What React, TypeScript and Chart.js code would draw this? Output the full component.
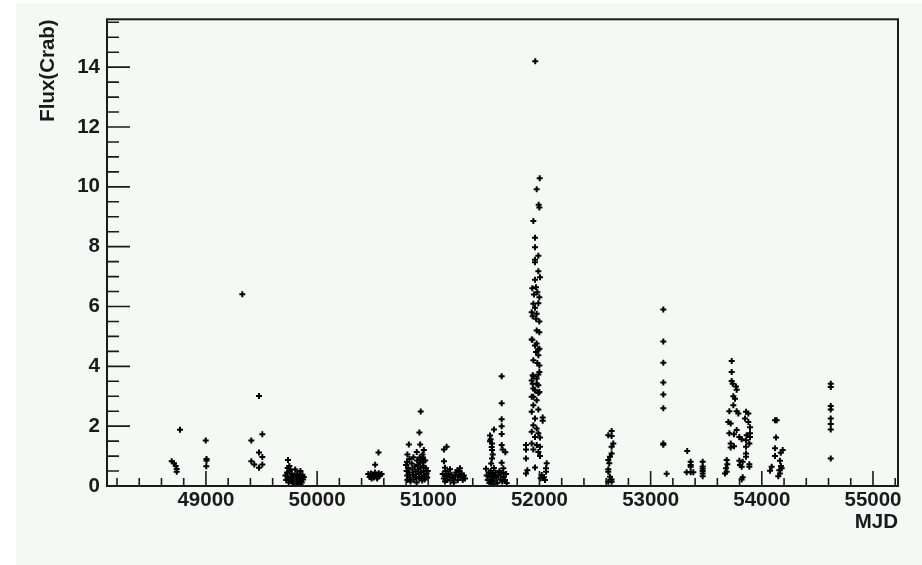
import React, { useEffect, useRef } from "react";
import { Chart, registerables } from "chart.js";

Chart.register(...registerables);

type P = [number, number];

// MJD / Flux(Crab) readings, grouped by activity episode
const ep48700: P[] = [[48692,0.83],[48713,0.76],[48728,0.67],[48737,0.57],[48737,0.48],[48767,1.88]];
const ep49000: P[] = [[48998,1.52],[49005,0.9],[49005,0.85],[49003,0.66]];
const ep49400: P[] = [[49327,6.41],[49477,3.01],[49507,1.73],[49408,1.52],[49477,1.12],[49507,0.97],[49408,0.83],[49435,0.72],[49477,0.61],[49507,0.72]];
const ep49800: P[] = [[49738,0.87],[49750,0.67],[49715,0.35],[49722,0.2],[49730,0.45],[49738,0.28],[49745,0.12],[49752,0.5],[49760,0.3],[49765,0.18],[49772,0.4],[49778,0.25],[49785,0.1],[49790,0.35],[49797,0.22],[49803,0.55],[49808,0.15],[49815,0.3],[49820,0.42],[49826,0.08],[49832,0.25],[49838,0.35],[49845,0.18],[49850,0.5],[49856,0.28],[49862,0.12],[49868,0.38],[49874,0.22],[49880,0.3],[49735,0.6],[49760,0.55],[49795,0.05],[49820,0.05],[49850,0.05]];
const ep50500: P[] = [[50552,1.12],[50522,0.71],[50460,0.4],[50472,0.3],[50485,0.42],[50498,0.35],[50510,0.28],[50520,0.45],[50533,0.38],[50545,0.32],[50555,0.43],[50568,0.36],[50580,0.4],[50490,0.25],[50540,0.25]];
const ep50900: P[] = [[50932,2.49],[50920,1.79],[50825,1.39],[50927,1.39],[50896,1.14],[50866,0.96],[50830,0.9],[50950,0.96],[50956,0.8],[50800,0.7],[50805,0.5],[50810,0.35],[50812,0.2],[50820,0.6],[50828,0.45],[50835,0.28],[50840,0.15],[50850,0.75],[50858,0.55],[50862,0.38],[50870,0.22],[50878,0.65],[50885,0.48],[50890,0.3],[50895,0.12],[50900,0.85],[50905,0.7],[50910,0.55],[50915,0.4],[50918,0.25],[50922,0.95],[50925,0.78],[50930,0.62],[50935,0.45],[50940,0.3],[50945,0.18],[50948,1.05],[50952,0.68],[50958,0.5],[50962,0.35],[50968,0.22],[50972,0.85],[50978,0.6],[50985,0.42],[50990,0.28],[50995,0.5],[50960,1.2],[50940,0.9],[50812,1.05],[50808,0.8]];
const ep51200: P[] = [[51165,1.31],[51141,1.22],[51141,0.83],[51150,0.61],[51195,0.56],[51285,0.59],[51261,0.53],[51130,0.4],[51140,0.25],[51150,0.15],[51160,0.35],[51170,0.2],[51180,0.42],[51190,0.3],[51200,0.18],[51210,0.38],[51225,0.25],[51240,0.32],[51250,0.45],[51265,0.2],[51275,0.38],[51290,0.28],[51300,0.42],[51310,0.2],[51320,0.35],[51330,0.25],[51155,0.5],[51280,0.5],[51230,0.12]];
const ep51600: P[] = [[51660,3.67],[51660,2.77],[51660,2.23],[51660,2.0],[51660,1.74],[51591,1.89],[51555,1.69],[51561,1.56],[51573,1.42],[51660,1.37],[51669,1.22],[51693,1.13],[51573,1.2],[51573,0.92],[51660,0.78],[51519,0.58],[51675,0.59],[51525,0.35],[51535,0.2],[51545,0.45],[51550,0.1],[51558,0.3],[51562,0.5],[51568,0.15],[51575,0.4],[51580,0.25],[51585,0.05],[51590,0.6],[51595,0.35],[51600,0.18],[51605,0.45],[51610,0.28],[51620,0.1],[51630,0.35],[51640,0.5],[51650,0.22],[51655,0.4],[51665,0.15],[51670,0.45],[51680,0.3],[51690,0.2],[51700,0.4],[51705,0.1],[51565,0.75],[51580,1.05],[51570,1.3],[51555,1.5]];
const ep51950: P[] = [[51962,14.2],[52002,10.29],[51975,9.92],[51993,9.4],[51999,9.31],[51945,8.86],[51960,8.3],[51960,7.98],[51990,7.7],[51960,7.56],[51960,7.48],[51990,7.18],[52005,6.98],[51960,6.89],[51936,6.61],[51969,6.64],[51981,6.48],[51951,6.4],[51999,6.31],[51945,6.09],[51990,6.11],[51960,5.96],[51930,5.81],[51975,5.76],[51939,5.67],[51969,5.59],[51999,5.5],[51975,5.2],[51999,5.14],[51936,4.89],[51975,4.76],[51999,4.59],[51969,4.48],[51990,4.37],[51945,4.2],[51981,4.11],[51999,4.03],[51945,3.67],[51975,3.59],[51999,3.81],[51939,3.42],[51990,3.37],[51960,3.2],[51999,3.14],[51945,2.98],[51930,4.9],[51960,4.7],[51990,4.56],[51939,3.7],[51990,3.73],[51930,3.53],[51975,3.42],[51945,3.26],[51990,3.11],[51930,2.98],[51975,2.87],[51945,2.7],[51990,2.56],[51930,2.48],[52029,2.29],[51960,2.26],[52029,2.18],[51945,2.03],[51975,1.92],[51930,1.81],[51990,1.76],[51960,1.64],[52005,1.62],[51879,1.37],[51930,1.42],[51975,1.37],[52005,1.31],[51879,1.22],[51945,1.22],[51990,1.14],[52005,1.0],[51879,0.92],[52065,0.76],[51960,0.62],[52059,0.59],[51891,0.53],[52020,0.37],[52059,0.48],[51879,0.42],[52041,0.29],[52011,0.26],[52050,0.2]];
const ep52600: P[] = [[52649,1.84],[52619,1.7],[52649,1.67],[52664,1.42],[52649,1.31],[52649,1.09],[52634,0.98],[52619,0.87],[52628,0.76],[52619,0.56],[52619,0.48],[52634,0.31],[52649,0.22],[52619,0.14],[52649,0.14]];
const ep53100: P[] = [[53114,5.9],[53114,4.83],[53114,4.12],[53114,3.46],[53114,3.06],[53114,2.6],[53114,1.42],[53114,1.38],[53144,0.41]];
const ep53400: P[] = [[53329,1.17],[53360,0.81],[53360,0.7],[53360,0.64],[53324,0.46],[53360,0.46],[53384,0.46],[53468,0.81],[53468,0.65],[53468,0.58],[53468,0.5],[53468,0.42],[53468,0.33]];
const ep53800: P[] = [[53729,4.18],[53729,3.81],[53729,3.51],[53738,3.42],[53768,3.33],[53774,3.22],[53744,3.0],[53759,2.92],[53744,2.7],[53708,2.5],[53774,2.5],[53789,2.42],[53858,2.48],[53879,2.42],[53849,2.26],[53879,2.14],[53699,2.14],[53720,2.09],[53894,1.96],[53708,1.76],[53750,1.73],[53774,1.87],[53798,1.64],[53819,1.56],[53864,1.7],[53894,1.64],[53894,1.76],[53858,1.53],[53720,1.42],[53750,1.33],[53720,1.29],[53858,1.31],[53888,1.42],[53858,1.09],[53858,0.98],[53684,0.87],[53798,0.84],[53828,0.81],[53690,0.73],[53804,0.7],[53888,0.73],[53819,0.64],[53888,0.64],[53678,0.59],[53684,0.48],[53669,0.42],[53828,0.29],[53819,0.22]];
const ep54100: P[] = [[54119,2.2],[54134,2.2],[54128,1.62],[54119,1.26],[54188,1.2],[54170,1.11],[54119,1.0],[54089,0.64],[54074,0.51],[54163,0.84],[54172,0.67],[54179,0.59],[54157,0.53],[54163,0.42],[54148,0.33]];
const ep54600: P[] = [[54620,3.42],[54620,3.31],[54620,2.67],[54620,2.56],[54620,2.26],[54620,2.07],[54620,1.89],[54620,0.92]];

const X_MIN = 48110;
const X_MAX = 55225;
const Y_MIN = 0;
const Y_MAX = 15.6;
const X_LABEL_EVERY = 1000;
const Y_LABEL_EVERY = 2;

const episodes: P[][] = [ep48700, ep49000, ep49400, ep49800, ep50500, ep50900, ep51200, ep51600, ep51950, ep52600, ep53100, ep53400, ep53800, ep54100, ep54600];

const isMult = (v: number, m: number) => Math.abs(v / m - Math.round(v / m)) < 1e-6;

const INK = "#1a1a1a";
const PAD_BG = "#f4f9f6";

const rootPlugin = {
  id: "rootStyle",
  beforeDraw(chart: any) {
    const { ctx, width, height } = chart;
    ctx.save();
    ctx.fillStyle = "#ffffff";
    ctx.fillRect(0, 0, width, height);
    ctx.fillStyle = PAD_BG;
    ctx.fillRect(16, 3, width - 16, height - 3);
    ctx.restore();
  },
  afterDatasetsDraw(chart: any) {
    const { ctx, chartArea: a, scales } = chart;
    const x = scales.x;
    const y = scales.y;
    ctx.save();
    ctx.strokeStyle = INK;
    ctx.lineWidth = 1.6;
    ctx.beginPath();
    x.ticks.forEach((t: any) => {
      const px = x.getPixelForValue(t.value);
      const len = isMult(t.value, X_LABEL_EVERY) ? 15 : 8;
      ctx.moveTo(px, a.bottom);
      ctx.lineTo(px, a.bottom - len);
    });
    y.ticks.forEach((t: any) => {
      const py = y.getPixelForValue(t.value);
      const len = isMult(t.value, Y_LABEL_EVERY) ? 23 : 12;
      ctx.moveTo(a.left, py);
      ctx.lineTo(a.left + len, py);
    });
    ctx.stroke();
    ctx.lineWidth = 2;
    ctx.strokeRect(a.left, a.top, a.right - a.left, a.bottom - a.top);
    ctx.restore();
  },
};

export default function App() {
  const ref = useRef<HTMLCanvasElement | null>(null);
  useEffect(() => {
    if (!ref.current) return;
    const pts = episodes.flat().map(([m, f]) => ({ x: m, y: f }));
    const font = { family: "'Liberation Sans', Arial, Helvetica, sans-serif", size: 20.5, weight: "bold" as const, lineHeight: 1.2 };
    const chart = new Chart(ref.current, {
      type: "scatter",
      data: {
        datasets: [
          {
            data: pts,
            pointStyle: "cross",
            pointRadius: 3,
            pointBorderWidth: 2,
            borderColor: "#000",
            backgroundColor: "#000",
          } as any,
        ],
      },
      options: {
        animation: false,
        responsive: false,
        events: [],
        layout: { padding: { left: 0, top: 18, right: 24, bottom: 0 } },
        plugins: { legend: { display: false }, tooltip: { enabled: false } },
        scales: {
          x: {
            type: "linear",
            min: X_MIN,
            max: X_MAX,
            grid: { display: false, drawTicks: false },
            border: { display: false },
            ticks: {
              stepSize: 200,
              autoSkip: false,
              includeBounds: false,
              maxRotation: 0,
              padding: 2,
              color: INK,
              font,
              callback: (v: any) => (isMult(Number(v), X_LABEL_EVERY) ? String(v) : ""),
            },
            title: { display: true, text: "MJD", align: "end", color: INK, font, padding: { top: 0, bottom: 30 } },
            afterFit: (s: any) => { s.height = 79; },
          },
          y: {
            type: "linear",
            min: Y_MIN,
            max: Y_MAX,
            grid: { display: false, drawTicks: false },
            border: { display: false },
            ticks: {
              stepSize: 0.5,
              autoSkip: false,
              includeBounds: false,
              padding: 7,
              color: INK,
              font,
              callback: (v: any) => (isMult(Number(v), Y_LABEL_EVERY) ? String(Math.round(Number(v))) : ""),
            },
            title: { display: true, text: "Flux(Crab)", align: "end", color: INK, font, padding: { top: 36, bottom: 0 } },
            afterFit: (s: any) => { s.width = 107; },
          },
        },
      },
      plugins: [rootPlugin],
    });
    return () => chart.destroy();
  }, []);
  return (
    <div style={{ position: "fixed", left: 0, top: 0, width: 922, height: 565, background: "#fff" }}>
      <canvas ref={ref} width={922} height={565} style={{ display: "block", width: 922, height: 565 }} />
    </div>
  );
}
